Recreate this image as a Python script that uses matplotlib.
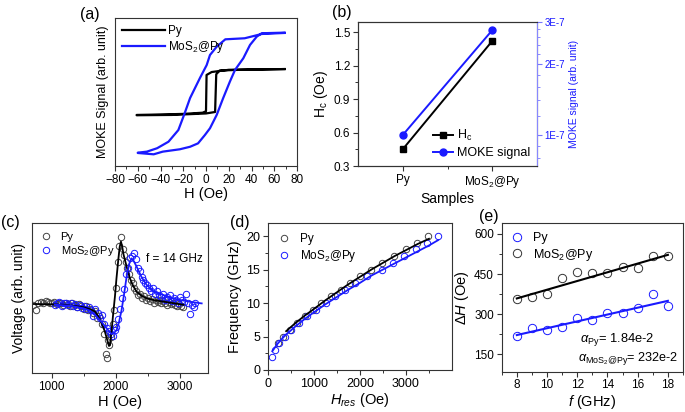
import matplotlib
matplotlib.use("Agg")
import matplotlib.pyplot as plt
from matplotlib.ticker import MultipleLocator, FixedLocator, NullFormatter

plt.rcParams['font.family'] = ['Liberation Sans', 'DejaVu Sans']
plt.rcParams['mathtext.fontset'] = 'custom'
plt.rcParams['mathtext.rm'] = 'Liberation Sans'
plt.rcParams['mathtext.it'] = 'Liberation Sans:italic'
plt.rcParams['axes.linewidth'] = 0.8
plt.rcParams['axes.edgecolor'] = '#333333'

BLUE = '#1a1aff'
LBL = 'MoS$_2$@Py'

# ---- (a) MOKE loops: field (Oe) and normalised signal
a_py_H = [69, 40, 20, 5, 0.5, 0, -3, -20, -40, -61,
          -61, -30, 0, 8, 9, 12, 30, 69]
a_py_S = [0.655, 0.652, 0.65, 0.635, 0.615, 0.37, 0.36, 0.352, 0.348, 0.345,
          0.343, 0.345, 0.355, 0.365, 0.62, 0.645, 0.65, 0.655]
a_mo_H = [69, 49, 34, 17, 9.4, 3.5, 0.6, -5.3, -14, -19.3, -24.3, -33, -43, -52, -60,
          -60, -46, -38, -23, -14, -7, -1, 3.5, 9.4, 15, 21, 25.5, 32.8, 38.7, 44.6, 49, 69]
a_mo_S = [0.899, 0.892, 0.863, 0.856, 0.806, 0.75, 0.682, 0.595, 0.459, 0.345, 0.243,
          0.164, 0.12, 0.097, 0.09,
          0.088, 0.079, 0.097, 0.113, 0.13, 0.153, 0.209, 0.255, 0.345, 0.457, 0.57,
          0.649, 0.728, 0.818, 0.874, 0.897, 0.901]

# ---- (b) coercive field and MOKE signal
b_samples = ['Py', LBL]
b_hc = [0.45, 1.42]
b_moke = [1.0e-7, 2.77e-7]

# ---- (c) FMR spectra at 14 GHz (normalised voltage)
c_py_H = [710, 750, 790, 830, 870, 905, 940, 975, 1010, 1045, 1080, 1115, 1150, 1185,
          1220, 1255, 1290, 1325, 1360, 1395, 1430, 1465, 1500, 1535, 1570, 1605, 1640,
          1675, 1710, 1745, 1780, 1815, 1845, 1862, 1880, 1900, 1925, 1950, 1975, 2000,
          2030, 2055, 2080, 2105, 2130, 2155, 2180, 2205, 2230, 2260, 2290, 2320, 2350,
          2380, 2410, 2440, 2470, 2500, 2530, 2560, 2590, 2620, 2650, 2680, 2710, 2740,
          2770, 2800, 2830, 2860, 2890, 2920, 2950, 2980, 3010, 3040]
c_py_V = [0.455, 0.42, 0.47, 0.475, 0.47, 0.48, 0.475, 0.465, 0.47, 0.475, 0.46, 0.47,
          0.465, 0.455, 0.47, 0.46, 0.45, 0.465, 0.455, 0.44, 0.46, 0.445, 0.43, 0.445,
          0.42, 0.43, 0.40, 0.415, 0.37, 0.38, 0.33, 0.26, 0.125, 0.10, 0.22, 0.19, 0.24,
          0.33, 0.42, 0.57, 0.74, 0.85, 0.91, 0.83, 0.79, 0.74, 0.70, 0.66, 0.62, 0.60,
          0.57, 0.545, 0.52, 0.53, 0.50, 0.515, 0.49, 0.50, 0.48, 0.495, 0.47, 0.485,
          0.475, 0.49, 0.465, 0.48, 0.47, 0.455, 0.475, 0.46, 0.47, 0.455, 0.445, 0.46,
          0.45, 0.44]
c_mo_H = [1050, 1085, 1120, 1155, 1190, 1225, 1260, 1295, 1330, 1365, 1400, 1435, 1470,
          1505, 1540, 1575, 1610, 1645, 1680, 1715, 1750, 1785, 1820, 1855, 1890, 1920,
          1950, 1980, 2010, 2040, 2070, 2100, 2130, 2160, 2190, 2220, 2250, 2280, 2310,
          2340, 2370, 2400, 2430, 2460, 2490, 2520, 2550, 2580, 2610, 2640, 2670, 2700,
          2730, 2760, 2790, 2820, 2850, 2880, 2910, 2940, 2970, 3000, 3030, 3060, 3090,
          3120, 3150, 3180, 3210, 3240]
c_mo_V = [0.455, 0.47, 0.475, 0.45, 0.47, 0.465, 0.455, 0.47, 0.445, 0.46, 0.44, 0.455,
          0.435, 0.45, 0.43, 0.44, 0.42, 0.38, 0.43, 0.40, 0.365, 0.385, 0.33, 0.30, 0.28,
          0.26, 0.245, 0.29, 0.31, 0.36, 0.43, 0.50, 0.56, 0.66, 0.70, 0.77, 0.78, 0.80,
          0.76, 0.70, 0.68, 0.64, 0.62, 0.60, 0.585, 0.57, 0.55, 0.565, 0.53, 0.545, 0.52,
          0.505, 0.53, 0.49, 0.51, 0.495, 0.52, 0.48, 0.50, 0.485, 0.47, 0.51, 0.49, 0.475,
          0.53, 0.47, 0.395, 0.455, 0.44, 0.47]
c_py_fitH = [720, 1000, 1200, 1400, 1500, 1600, 1675, 1700, 1750, 1800, 1830, 1860, 1893,
             1910, 1935, 1960, 1986, 2010, 2038, 2060, 2080, 2100, 2120, 2142, 2180, 2220,
             2270, 2324, 2400, 2480, 2600, 2739, 2900, 3050]
c_py_fitV = [0.46, 0.458, 0.455, 0.445, 0.438, 0.425, 0.41, 0.395, 0.36, 0.31, 0.275,
             0.23, 0.18, 0.185, 0.287, 0.40, 0.509, 0.63, 0.753, 0.84, 0.876, 0.84, 0.79,
             0.753, 0.69, 0.631, 0.58, 0.542, 0.515, 0.498, 0.485, 0.476, 0.465, 0.455]
c_mo_fitH = [1050, 1300, 1500, 1600, 1700, 1780, 1857, 1900, 1935, 1970, 2013, 2050,
             2090, 2130, 2168, 2210, 2246, 2280, 2324, 2400, 2480, 2600, 2740, 2870,
             3000, 3150, 3337]
c_mo_fitV = [0.455, 0.448, 0.431, 0.415, 0.376, 0.34, 0.298, 0.275, 0.26, 0.265, 0.287,
             0.34, 0.42, 0.53, 0.642, 0.73, 0.764, 0.745, 0.709, 0.64, 0.587, 0.54, 0.52,
             0.50, 0.487, 0.475, 0.464]

# ---- (d) Kittel: resonance field vs frequency
d_py_f = [4, 5, 6, 7, 8, 9, 10, 11, 12, 13, 14, 15, 16, 17, 18, 19, 20]
d_py_H = [220, 340, 480, 640, 810, 990, 1163, 1381, 1584, 1780, 2013, 2237, 2484, 2745,
          2993, 3233, 3486]
d_mo_f = [2, 3, 4, 5, 6, 7, 8, 9, 10, 11, 12, 13, 14, 15, 16, 17, 18, 19, 20]
d_mo_H = [90, 161, 255, 379, 509, 675, 850, 1054, 1257, 1468, 1671, 1904, 2157, 2470,
          2710, 2963, 3211, 3450, 3690]
d_py_fitH = [400, 600, 800, 1000, 1250, 1500, 1750, 2000, 2250, 2500, 2750, 3000, 3250, 3500]
d_py_fitF = [5.8, 7.0, 8.1, 9.1, 10.4, 11.6, 12.8, 13.9, 15.0, 16.0, 17.0, 17.9, 18.8, 19.6]
d_mo_fitH = [100, 200, 300, 400, 600, 800, 1000, 1250, 1500, 1750, 2000, 2250, 2500,
             2750, 3000, 3250, 3500, 3700]
d_mo_fitF = [2.8, 3.8, 4.6, 5.3, 6.5, 7.6, 8.6, 9.8, 10.9, 12.0, 13.0, 14.1, 15.0, 15.9,
             16.8, 17.7, 18.6, 19.4]

# ---- (e) linewidth vs frequency
e_f = [8, 9, 10, 11, 12, 13, 14, 15, 16, 17, 18]
e_py_dH = [217, 247, 242, 254, 284, 278, 303, 304, 324, 374, 329]
e_mo_dH = [357, 365, 374, 434, 457, 453, 453, 478, 472, 516, 518]
e_fit_f = [8, 18]
e_py_fit = [222, 350]
e_mo_fit = [359, 522]

W, H = 685, 412
fig = plt.figure(figsize=(W / 100, H / 100), dpi=100)


def box(l, r, t, b):
    return [l / W, 1 - b / H, (r - l) / W, (b - t) / H]


def style(ax, size=8.5):
    ax.tick_params(which='both', direction='out', labelsize=size, colors='#333333',
                   labelcolor='black', pad=2)
    ax.tick_params(which='major', length=3.5, width=0.8)
    ax.tick_params(which='minor', length=2, width=0.7)


ring = dict(ls='none', marker='o', mfc='none', ms=4.6, mew=0.7)

# (a)
ax = fig.add_axes(box(115, 297, 18, 166))
ax.plot(a_py_H, a_py_S, color='black', lw=1.6, label='Py')
ax.plot(a_mo_H, a_mo_S, color=BLUE, lw=1.6, label=LBL)
ax.set_xlim(-80, 80)
ax.set_ylim(0, 1)
ax.xaxis.set_major_locator(MultipleLocator(20))
ax.xaxis.set_minor_locator(MultipleLocator(10))
ax.set_yticks([])
style(ax)
ax.set_xlabel('H (Oe)', fontsize=10.5, labelpad=1)
ax.set_ylabel('MOKE Signal (arb. unit)', fontsize=9, labelpad=4)
ax.legend(loc='upper left', frameon=False, fontsize=8.5, handlelength=3.6,
          handletextpad=0.3, borderaxespad=0.2, labelspacing=0.2)
fig.text(90 / W, 1 - 15 / H, '(a)', fontsize=11.5, ha='center', va='center')

# (b)
ax = fig.add_axes(box(358, 537, 22, 166))
ax.plot([0, 1], b_hc, color='black', lw=1.4, marker='s', ms=5, label='$\\mathrm{H_c}$')
ax.set_xlim(-0.5, 1.5)
ax.set_ylim(0.3, 1.59)
ax.set_xticks([0, 1])
ax.set_xticklabels(b_samples)
ax.xaxis.set_minor_locator(FixedLocator([0.5]))
ax.yaxis.set_major_locator(FixedLocator([0.3, 0.6, 0.9, 1.2, 1.5]))
ax.yaxis.set_minor_locator(FixedLocator([0.45, 0.75, 1.05, 1.35]))
style(ax)
ax.set_xlabel('Samples', fontsize=10, labelpad=2)
ax.set_ylabel('$\\mathrm{H_c}$ (Oe)', fontsize=10, labelpad=3)
ax2 = ax.twinx()
ax2.plot([0, 1], b_moke, color=BLUE, lw=1.4, marker='o', ms=5, label='MOKE signal')
ax2.set_yscale('log')
ax2.set_ylim(7.4e-8, 3e-7)
ax2.yaxis.set_major_locator(FixedLocator([1e-7, 2e-7, 3e-7]))
ax2.set_yticklabels(['1E-7', '2E-7', '3E-7'])
ax2.yaxis.set_minor_locator(FixedLocator([8e-8, 9e-8, 1.2e-7, 1.4e-7, 1.6e-7, 1.8e-7,
                                           2.2e-7, 2.4e-7, 2.6e-7, 2.8e-7]))
ax2.yaxis.set_minor_formatter(NullFormatter())
ax2.tick_params(which='both', direction='out', labelsize=7, colors='#7777ff',
                labelcolor=BLUE, pad=2)
ax2.tick_params(which='major', length=3.5)
ax2.tick_params(which='minor', length=2)
ax2.spines['right'].set_color('#8888ff')
ax2.set_ylabel('MOKE signal (arb. unit)', fontsize=7.5, color=BLUE, labelpad=3)
h1, l1 = ax.get_legend_handles_labels()
h2, l2 = ax2.get_legend_handles_labels()
ax2.legend(h1 + h2, l1 + l2, loc='lower right', frameon=False, fontsize=9,
           handlelength=1.6, handletextpad=0.3, borderaxespad=0.15, labelspacing=0.3)
fig.text(342 / W, 1 - 12 / H, '(b)', fontsize=11.5, ha='center', va='center')

# (c)
ax = fig.add_axes(box(31.7, 208.3, 223, 373))
ax.plot(c_py_H, c_py_V, color='#444444', label='Py', **ring)
ax.plot(c_mo_H, c_mo_V, color=BLUE, label=LBL, **ring)
ax.plot(c_py_fitH, c_py_fitV, color='black', lw=1.3)
ax.plot(c_mo_fitH, c_mo_fitV, color=BLUE, lw=1.3)
ax.set_xlim(690, 3440)
ax.set_ylim(0, 1)
ax.xaxis.set_major_locator(MultipleLocator(1000))
ax.xaxis.set_minor_locator(MultipleLocator(500))
ax.set_yticks([])
style(ax)
ax.set_xlabel('H (Oe)', fontsize=10.5, labelpad=2)
ax.set_ylabel('Voltage (arb. unit)', fontsize=10, labelpad=4)
ax.legend(loc='upper left', frameon=False, fontsize=8, handlelength=1.0,
          handletextpad=0.8, borderaxespad=0.4, labelspacing=0.15)
ax.text(0.65, 0.74, 'f = 14 GHz', transform=ax.transAxes, fontsize=8.5)
fig.text(1 / W, 1 - 222 / H, '(c)', fontsize=11.5, ha='left', va='center')

# (d)
ax = fig.add_axes(box(267.7, 452, 222.7, 370))
ax.plot(d_py_H, d_py_f, color='#444444', label='Py', **ring)
ax.plot(d_mo_H, d_mo_f, color=BLUE, label=LBL, **ring)
ax.plot(d_py_fitH, d_py_fitF, color='black', lw=1.3)
ax.plot(d_mo_fitH, d_mo_fitF, color=BLUE, lw=1.3)
ax.set_xlim(0, 4000)
ax.set_ylim(0, 22)
ax.set_xticks([0, 1000, 2000, 3000])
ax.xaxis.set_minor_locator(FixedLocator([500, 1500, 2500, 3500]))
ax.yaxis.set_major_locator(MultipleLocator(5))
ax.yaxis.set_minor_locator(MultipleLocator(2.5))
style(ax, 9)
ax.set_xlabel('$H_{res}$ (Oe)', fontsize=10.5, labelpad=1)
ax.set_ylabel('Frequency (GHz)', fontsize=10.5, labelpad=3)
ax.legend(loc='upper left', frameon=False, fontsize=8.5, handlelength=1.0,
          handletextpad=0.8, borderaxespad=0.5, labelspacing=0.2)
fig.text(240 / W, 1 - 222 / H, '(d)', fontsize=11.5, ha='center', va='center')

# (e)
ax = fig.add_axes(box(501.7, 683, 223.3, 371.7))
ax.plot(e_f, e_py_dH, color=BLUE, label='Py', **dict(ring, ms=6))
ax.plot(e_f, e_mo_dH, color='#333333', label=LBL, **dict(ring, ms=6))
ax.plot(e_fit_f, e_py_fit, color=BLUE, lw=1.5)
ax.plot(e_fit_f, e_mo_fit, color='black', lw=1.5)
ax.set_xlim(7, 19)
ax.set_ylim(85, 640)
ax.xaxis.set_major_locator(MultipleLocator(2))
ax.xaxis.set_minor_locator(MultipleLocator(1))
ax.yaxis.set_major_locator(FixedLocator([150, 300, 450, 600]))
ax.yaxis.set_minor_locator(FixedLocator([225, 375, 525]))
style(ax, 8.5)
ax.set_xlabel('$f$ (GHz)', fontsize=10.5, labelpad=1)
ax.set_ylabel('$\\Delta H$ (Oe)', fontsize=10.5, labelpad=2)
ax.legend(loc='upper left', frameon=False, fontsize=9, handlelength=1.0,
          handletextpad=0.8, borderaxespad=0.3, labelspacing=0.2)
ax.text(0.43, 0.22, '$\\alpha_{\\mathrm{Py}}$= 1.84e-2', transform=ax.transAxes,
        fontsize=9.3, va='center')
ax.text(0.42, 0.09, '$\\alpha_{\\mathrm{MoS_2@Py}}$= 232e-2', transform=ax.transAxes,
        fontsize=9.1, va='center')
fig.text(489 / W, 1 - 217 / H, '(e)', fontsize=11.5, ha='center', va='center')

fig.savefig('out.png', dpi=100)
